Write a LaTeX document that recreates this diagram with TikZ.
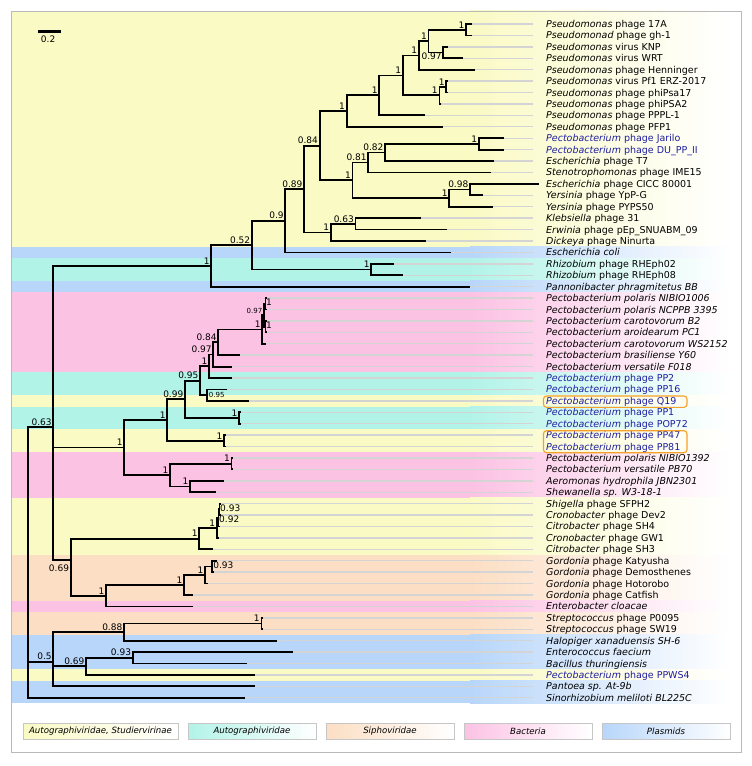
\documentclass[tikz,border=0pt]{standalone}
\usepackage{fontspec}
\setmainfont{DejaVu Sans}
\usetikzlibrary{positioning}
\definecolor{yel}{RGB}{250,250,197}
\definecolor{cya}{RGB}{178,243,232}
\definecolor{pch}{RGB}{252,222,196}
\definecolor{pnk}{RGB}{252,194,228}
\definecolor{blu}{RGB}{184,214,250}
\definecolor{pbblue}{RGB}{30,30,160}
\definecolor{hlorange}{RGB}{245,160,40}
\definecolor{guidegrey}{RGB}{212,212,212}
\newcommand\gen[1]{\textit{#1}}

\begin{document}
\begin{tikzpicture}[x=1pt,y=-1pt,
		br/.style={line width=1.8pt,black},
		guide/.style={line width=1.4pt,guidegrey,shorten >=13pt},
		leaf/.style={anchor=west,inner sep=0pt,text height=7pt,text depth=0pt,font=\fontsize{9.5}{11}\selectfont},
		supp/.style={anchor=south east,inner sep=0pt,xshift=-1.5pt,yshift=1.5pt,font=\fontsize{9}{10}\selectfont},
		suppr/.style={supp,anchor=west,xshift=2pt,yshift=0pt},
		suppsmall/.style={font=\fontsize{7}{8}\selectfont},
		hl/.style={draw=hlorange,line width=1.1pt,rounded corners=3pt},
		legbox/.style={draw=gray!45,left color=#1,right color=white,minimum height=16pt,inner sep=0pt,font=\fontsize{8.6}{10}\selectfont\itshape}]
	\useasboundingbox (0,0) rectangle (752,766);

	% coloured bands behind the leaves
	\foreach \a/\b/\c in {0/20/yel,21/21/blu,22/23/cya,24/24/blu,25/31/pnk,32/33/cya,34/34/yel,35/36/cya,
			37/38/yel,39/42/pnk,43/47/yel,48/51/pch,52/52/pnk,53/54/pch,55/57/blu,58/58/yel,59/60/blu}{
		\fill[\c] (10.7,{max(10.7,18.29+(\a-1)*11.42)}) rectangle (471,{18.29+\b*11.42});
		\shade[left color=\c,right color=white] (470,{max(10.7,18.29+(\a-1)*11.42)}) rectangle (730,{18.29+\b*11.42});
	}
	\draw[gray!55] (10.7,10.7) rectangle (741,752);

	% scale bar
	\node[fill=black,inner sep=0pt,minimum width=23pt,minimum height=2.5pt] (bar) at (49.6,31.7) {};
	\node[supp,anchor=north,xshift=0pt,yshift=0pt,below=4pt of bar] (barlbl) {0.2};

	% leaves
	\foreach \i/\tx/\c/\lab in {
		1/472/black/{\gen{Pseudomonas} phage 17A},
		2/472/black/{\gen{Pseudomonad} phage gh-1},
		3/448.3/black/{\gen{Pseudomonas} virus KNP},
		4/463/black/{\gen{Pseudomonas} virus WRT},
		5/475/black/{\gen{Pseudomonas} phage Henninger},
		6/448.3/black/{\gen{Pseudomonas} virus Pf1 ERZ-2017},
		7/448.3/black/{\gen{Pseudomonas} phage phiPsa17},
		8/441.4/black/{\gen{Pseudomonas} phage phiPSA2},
		9/424.6/black/{\gen{Pseudomonas} phage PPPL-1},
		10/443.3/black/{\gen{Pseudomonas} phage PFP1},
		11/503.6/pbblue/{\gen{Pectobacterium} phage Jarilo},
		12/503.6/pbblue/{\gen{Pectobacterium} phage DU\_PP\_II},
		13/493.7/black/{\gen{Escherichia} phage T7},
		14/490.7/black/{\gen{Stenotrophomonas} phage IME15},
		15/539/black/{\gen{Escherichia} phage CICC 80001},
		16/482.8/black/{\gen{Yersinia} phage YpP-G},
		17/492.7/black/{\gen{Yersinia} phage PYPS50},
		18/420.6/black/{\gen{Klebsiella} phage 31},
		19/447.3/black/{\gen{Erwinia} phage pEp\_SNUABM\_09},
		20/425.6/black/{\gen{Dickeya} phage Ninurta},
		21/450.8/black/{\gen{Escherichia coli}},
		22/394/black/{\gen{Rhizobium} phage RHEph02},
		23/402.9/black/{\gen{Rhizobium} phage RHEph08},
		24/470/black/{\gen{Pannonibacter phragmitetus BB}},
		25/267/black/{\gen{Pectobacterium polaris NIBIO1006}},
		26/267/black/{\gen{Pectobacterium polaris NCPPB 3395}},
		27/267/black/{\gen{Pectobacterium carotovorum B2}},
		28/267/black/{\gen{Pectobacterium aroidearum PC1}},
		29/266/black/{\gen{Pectobacterium carotovorum WS2152}},
		30/240/black/{\gen{Pectobacterium brasiliense Y60}},
		31/232.3/black/{\gen{Pectobacterium versatile F018}},
		32/232.3/pbblue/{\gen{Pectobacterium} phage PP2},
		33/226.7/pbblue/{\gen{Pectobacterium} phage PP16},
		34/249/pbblue/{\gen{Pectobacterium} phage Q19},
		35/240.5/pbblue/{\gen{Pectobacterium} phage PP1},
		36/240.5/pbblue/{\gen{Pectobacterium} phage POP72},
		37/225.5/pbblue/{\gen{Pectobacterium} phage PP47},
		38/225.5/pbblue/{\gen{Pectobacterium} phage PP81},
		39/233/black/{\gen{Pectobacterium polaris NIBIO1392}},
		40/233/black/{\gen{Pectobacterium versatile PB70}},
		41/224/black/{\gen{Aeromonas hydrophila JBN2301}},
		42/216/black/{\gen{Shewanella sp. W3-18-1}},
		43/221/black/{\gen{Shigella} phage SFPH2},
		44/221/black/{\gen{Cronobacter} phage Dev2},
		45/220/black/{\gen{Citrobacter} phage SH4},
		46/219/black/{\gen{Cronobacter} phage GW1},
		47/213.3/black/{\gen{Citrobacter} phage SH3},
		48/217.3/black/{\gen{Gordonia} phage Katyusha},
		49/214/black/{\gen{Gordonia} phage Demosthenes},
		50/208/black/{\gen{Gordonia} phage Hotorobo},
		51/193/black/{\gen{Gordonia} phage Catfish},
		52/192.5/black/{\gen{Enterobacter cloacae}},
		53/262.8/black/{\gen{Streptococcus} phage P0095},
		54/262.8/black/{\gen{Streptococcus} phage SW19},
		55/277.1/black/{\gen{Halopiger xanaduensis SH-6}},
		56/292.9/black/{\gen{Enterococcus faecium}},
		57/246.6/black/{\gen{Bacillus thuringiensis}},
		58/255.2/pbblue/{\gen{Pectobacterium} phage PPWS4},
		59/255.2/black/{\gen{Pantoea sp. At-9b}},
		60/245.2/black/{\gen{Sinorhizobium meliloti BL225C}}}{
		\coordinate (t\i) at (\tx,{24+(\i-1)*11.42});
		\node[leaf,text=\c] (l\i) at (546,{24+(\i-1)*11.42}) {\lab};
		\draw[guide] (t\i) -- (l\i.west);
	}

	% inner nodes of the tree
	\foreach \n/\x/\y in {n17A/466/29.71,nKNP/443.3/52.55,na/428.5/41.13,nb/418.7/55.41,npf/446.3/86.81,
			npfb/439.4/95.38,nc/402.9/75.40,nd/379.2/95.38,ne/346.6/111.08,njar/478.9/143.91,nT7/385.1/152.48,
			nime/368.3/162.47,ncicc/470/189.59,nyer/449.3/198.16,ng/352.5/180.31,nf/319.6/145.70,
			nkleb/355.5/223.85,ndick/330.8/232.42,ni/304.1/189.06,nj/285.3/220.73,nrhiz/371.3/269.53,
			nk/251.8/245.13,nl/211.3/265.90,npol/265.5/303.79,ncar/265.5/326.63,npc/264/315.21,
			npcw/262.3/329.49,n084/218.3/342.34,n097/213.3/354.47,n1pp2/209/366.25,nq19/206.7/395.15,
			n095/200/380.70,npp1/239/417.99,n099/185/399.35,npp47/224/440.83,n1p/167.3/420.09,
			nnib/231.5/463.67,naer/190/486.51,n1b/170/475.09,npec/124.3/447.59,nsd/219.5/509.35,
			nsds/218.5/517.92,nsg/216.7/527.91,nshig/199.3/538.62,nkat/211.7/566.45,nhot/205/575.02,
			ncat/184/585.01,nent/106/595.72,n069/70.7/560,n063/53.3/427,nstrep/261.4/623.55,
			n088/124/632.12,n093/132.7/657.81,n069b/86/666.38,n05/53.3/661.62,root/27.7/562}
		\coordinate (\n) at (\x,\y);

	% branches
	\foreach \p/\cs in {n17A/{t1,t2},nKNP/{t3,t4},na/{n17A,nKNP},nb/{na,t5},npf/{t6,t7},npfb/{npf,t8},
			nc/{nb,npfb},nd/{nc,t9},ne/{nd,t10},njar/{t11,t12},nT7/{njar,t13},nime/{nT7,t14},
			ncicc/{t15,t16},nyer/{ncicc,t17},ng/{nime,nyer},nf/{ne,ng},nkleb/{t18,t19},ndick/{nkleb,t20},
			ni/{nf,ndick},nj/{ni,t21},nrhiz/{t22,t23},nk/{nj,nrhiz},nl/{nk,t24},
			npol/{t25,t26},ncar/{t27,t28},npc/{npol,ncar},npcw/{npc,t29},n084/{npcw,t30},n097/{n084,t31},
			n1pp2/{n097,t32},nq19/{t33,t34},n095/{n1pp2,nq19},npp1/{t35,t36},n099/{n095,npp1},
			npp47/{t37,t38},n1p/{n099,npp47},nnib/{t39,t40},naer/{t41,t42},n1b/{nnib,naer},npec/{n1p,n1b},
			nsd/{t43,t44},nsds/{nsd,t45},nsg/{nsds,t46},nshig/{nsg,t47},nkat/{t48,t49},nhot/{nkat,t50},
			ncat/{nhot,t51},nent/{ncat,t52},n069/{nshig,nent},n063/{nl,npec,n069},
			nstrep/{t53,t54},n088/{nstrep,t55},n093/{t56,t57},n069b/{n093,t58},n05/{n088,n069b,t59},
			root/{n063,n05,t60}}
		\foreach \c in \cs
			\draw[br] (\p) |- (\c);

	% support values
	\foreach \n/\v in {n17A/1,na/1,nb/1,npf/1,npfb/1,nc/1,nd/1,ne/1,njar/1,nT7/0.82,nime/0.81,
			ncicc/0.98,nyer/1,ng/1,nf/0.84,nkleb/0.63,ndick/1,ni/0.89,nj/0.9,nrhiz/1,nk/0.52,nl/1,
			npcw/1,n084/0.84,n097/0.97,n1pp2/1,n095/0.95,npp1/1,n099/0.99,npp47/1,n1p/1,nnib/1,naer/1,
			n1b/1,npec/1,nsg/1,nshig/1,nhot/1,ncat/1,nent/1,n063/0.63,nstrep/1,n088/0.88,n093/0.93,
			n069b/0.69,n05/0.5}
		\node[supp] (s\n) at (\n) {\v};
	\node[supp,anchor=north east,yshift=-1.5pt] (snKNP) at (nKNP) {0.97};
	\node[supp,suppsmall] (snpc) at (npc) {0.97};
	\node[suppr] (snpol) at (npol) {1};
	\node[suppr] (sncar) at (ncar) {1};
	\node[suppr,suppsmall,xshift=1.5pt,yshift=-1.5pt] (snq19) at (nq19) {0.95};
	\node[suppr,xshift=0pt] (snsd) at (nsd) {0.93};
	\node[suppr,yshift=-3pt] (snsds) at (nsds) {0.92};
	\node[suppr,xshift=1pt] (snkat) at (nkat) {0.93};
	\node[supp,anchor=north east,yshift=-6pt] (sn069) at (n069) {0.69};

	% highlighted phages
	\draw[hl] (543.5,396) rectangle (687,407.3);
	\draw[hl] (543.5,430.7) rectangle (687,452.7);

	% legend
	\node[legbox=yel,minimum width=155pt] (lg1) at (100.5,731) {Autographiviridae, Studiervirinae};
	\node[legbox=cya,minimum width=128pt] (lg2) at (252,731) {Autographiviridae};
	\node[legbox=pch,minimum width=128pt] (lg3) at (390,731) {Siphoviridae};
	\node[legbox=pnk,minimum width=128pt] (lg4) at (528,731) {Bacteria};
	\node[legbox=blu,minimum width=128pt] (lg5) at (666,731) {Plasmids};
\end{tikzpicture}
\end{document}
